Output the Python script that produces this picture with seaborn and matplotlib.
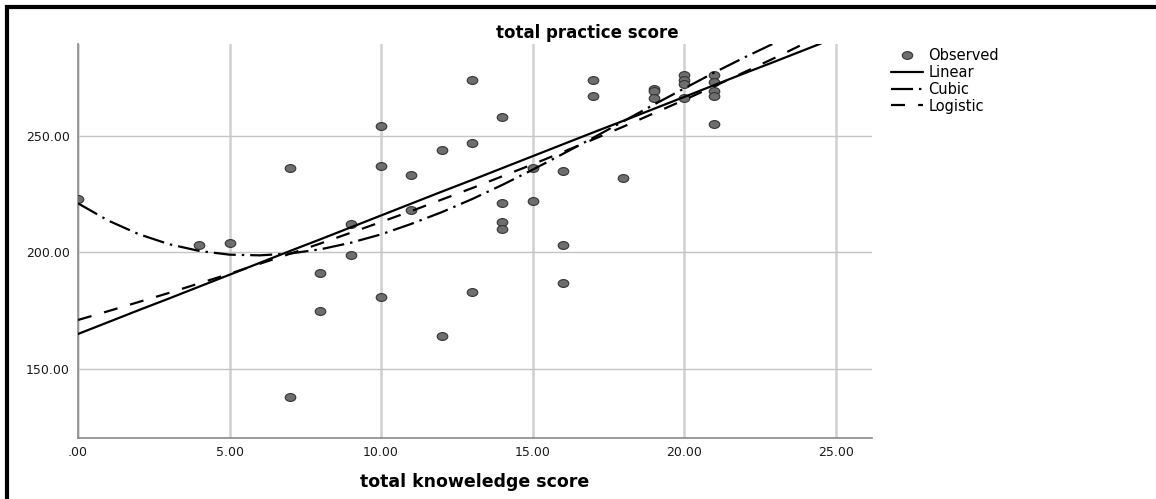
import numpy as np
import pandas as pd
import seaborn as sns
import matplotlib.pyplot as plt
from matplotlib.lines import Line2D
from matplotlib.path import Path
from matplotlib.transforms import Affine2D

# observed points (knowledge score, practice score)
obs_x = [0, 4, 5, 7, 7, 8, 8, 9, 9, 10, 10, 10, 11, 11, 12, 12, 13, 13, 13,
         14, 14, 14, 14, 15, 15, 16, 16, 16, 17, 17, 18, 19, 19, 19,
         20, 20, 20, 20, 21, 21, 21, 21, 21]
obs_y = [223, 203, 204, 236, 138, 191, 175, 212, 199, 254, 237, 181, 233, 218, 244, 164, 274, 247, 183,
         258, 221, 213, 210, 236, 222, 235, 203, 187, 274, 267, 232, 270, 269, 266,
         276, 274, 272, 266, 276, 273, 269, 267, 255]

# fitted curves
fit_x = list(range(0, 26))
linear_y = [165.0, 170.1, 175.2, 180.2, 185.3, 190.4, 195.5, 200.6, 205.6, 210.7, 215.8, 220.9, 226.0,
            231.0, 236.1, 241.2, 246.3, 251.4, 256.4, 261.5, 266.6, 271.7, 276.8, 281.8, 286.9, 292.0]
cubic_y = [221.0, 213.6, 207.8, 203.5, 200.6, 199.0, 198.7, 199.5, 201.3, 204.1, 207.7, 212.2, 217.2,
           222.8, 228.9, 235.4, 242.2, 249.1, 256.2, 263.3, 270.2, 277.1, 283.6, 289.8, 295.5, 300.7]
logistic_y = [171.0, 174.8, 178.7, 182.6, 186.7, 190.8, 195.1, 199.4, 203.8, 208.4, 213.0, 217.7, 222.6,
              227.5, 232.6, 237.7, 243.0, 248.4, 253.9, 259.6, 265.3, 271.2, 277.3, 283.4, 289.7, 296.2]

x_ticks = [0, 5, 10, 15, 20, 25]
x_ticklabels = [".00", "5.00", "10.00", "15.00", "20.00", "25.00"]
y_ticks = [150, 200, 250]
y_ticklabels = ["150.00", "200.00", "250.00"]

obs = pd.DataFrame({"x": obs_x, "y": obs_y})
fits = pd.concat([
    pd.DataFrame({"x": fit_x, "y": linear_y, "fit": "Linear"}),
    pd.DataFrame({"x": fit_x, "y": cubic_y, "fit": "Cubic"}),
    pd.DataFrame({"x": fit_x, "y": logistic_y, "fit": "Logistic"}),
])

sns.set_theme(style="white")
plt.rcParams["font.family"] = ["DejaVu Sans"]
plt.rcParams["text.color"] = "black"

fig = plt.figure(figsize=(11.56, 4.99), dpi=100)
ax = fig.add_axes([0.0675, 0.1222, 0.6868, 0.7896])

# slightly wide oval marker like the original
oval = Path.unit_circle().transformed(Affine2D().scale(1.0, 0.74))
pt_fill, pt_edge = "#6e6e6e", "#333333"

dash_map = {"Linear": "", "Cubic": (9.9, 2.7, 1.1, 2.7), "Logistic": (6.3, 5.9)}
sns.scatterplot(data=obs, x="x", y="y", color=pt_fill, edgecolor=pt_edge, marker=oval,
                linewidth=0.8, s=58, ax=ax, zorder=3)
sns.lineplot(data=fits, x="x", y="y", style="fit", dashes=dash_map, color="black",
             linewidth=1.6, ax=ax, legend=False, zorder=4)

ax.set_xlim(0, 26.2)
ax.set_ylim(120.4, 289.3)
ax.set_xticks(x_ticks)
ax.set_xticklabels(x_ticklabels)
ax.set_yticks(y_ticks)
ax.set_yticklabels(y_ticklabels)
ax.tick_params(labelsize=9, colors="#1a1a1a", length=0, pad=6)
ax.grid(axis="x", color="#d0d0d0", linewidth=1.8)
ax.grid(axis="y", color="#c4c4c4", linewidth=1.0)
ax.set_axisbelow(True)
for side in ["top", "right"]:
    ax.spines[side].set_visible(False)
for side in ["left", "bottom"]:
    ax.spines[side].set_color("#8a8a8a")
    ax.spines[side].set_linewidth(1.2)
ax.set_xlabel("total knoweledge score", fontsize=12.5, fontweight="bold", labelpad=10,
              color="black")
ax.set_ylabel("")
fig.text(0.508, 0.924, "total practice score", ha="center", va="baseline",
         fontsize=12, fontweight="bold", color="black")

handles = [
    Line2D([], [], linestyle="none", marker=oval, markersize=7.5, markerfacecolor=pt_fill,
           markeredgecolor=pt_edge, markeredgewidth=0.8),
    Line2D([], [], color="black", linewidth=1.6),
    Line2D([], [], color="black", linewidth=1.6, dashes=dash_map["Cubic"]),
    Line2D([], [], color="black", linewidth=1.6, dashes=dash_map["Logistic"]),
]
fig.legend(handles, ["Observed", "Linear", "Cubic", "Logistic"], loc="upper left",
           bbox_to_anchor=(0.771, 0.904), frameon=False, fontsize=10.5,
           handlelength=2.2, handletextpad=0.35, labelspacing=0.13, borderaxespad=0,
           borderpad=0, labelcolor="black")

# frame lines of the original screenshot
fig.add_artist(Line2D([0.0045, 1.0], [0.986, 0.986], color="black", linewidth=3,
                      solid_capstyle="butt", transform=fig.transFigure))
fig.add_artist(Line2D([0.0060, 0.0060], [0.0, 0.990], color="black", linewidth=3,
                      solid_capstyle="butt", transform=fig.transFigure))

fig.savefig("out.png", dpi=100)
